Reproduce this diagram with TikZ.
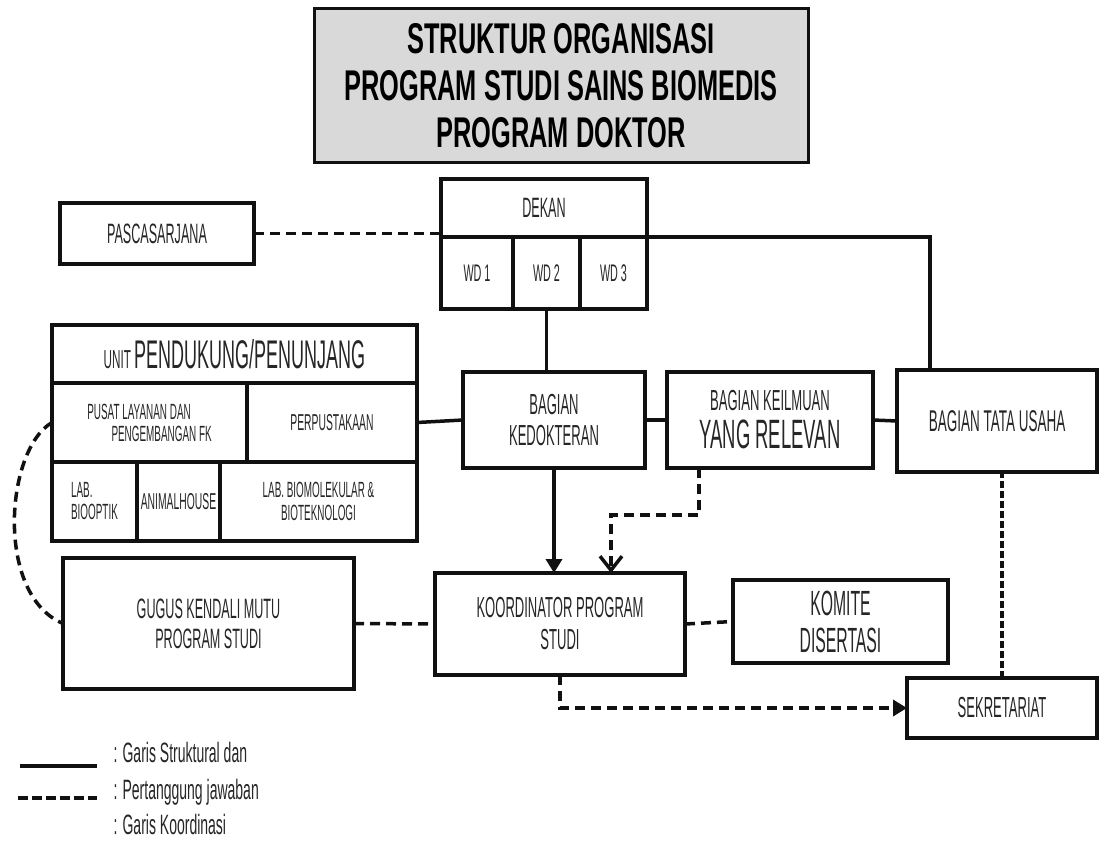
\documentclass[tikz,border=0pt]{standalone}
\usepackage{fontspec}
\setmainfont{Liberation Sans}[FakeStretch=0.45]
\newfontfamily\headfont{Liberation Sans}[FakeStretch=0.59]
\newfontfamily\legendfont{Liberation Sans}[FakeStretch=0.5]
\usepackage{tikz}
\usetikzlibrary{arrows.meta}
\definecolor{TitleGray}{HTML}{D9D9D9}
\definecolor{LineBlack}{HTML}{111111}
\definecolor{TextDark}{HTML}{262626}

\newcommand{\fs}[2]{\fontsize{#1}{#2}\selectfont}

\tikzset{
    unitbox/.style={draw=LineBlack, line width=3.5pt, anchor=north west, outer sep=0pt,
        align=center, inner sep=2pt, text=TextDark},
    struct/.style={draw=LineBlack, line width=3.5pt},
    resp/.style={draw=LineBlack, line width=3.5pt, dash pattern=on 10pt off 6pt},
    respfine/.style={draw=LineBlack, line width=3.5pt, dash pattern=on 7pt off 3pt},
    solidtip/.style={-{Triangle[width=16pt,length=14pt]}},
    opentip/.style={-{Straight Barb[width=22pt,length=14pt]}},
}

\begin{document}
\begin{tikzpicture}[x=1pt, y=-1pt]
    \useasboundingbox (0,0) rectangle (1099,840);

    % Title
    \node[unitbox, fill=TitleGray, text=black, line width=3pt, minimum width=494pt, minimum height=153pt,
        font=\headfont\bfseries\fs{43}{47}] (title) at (314,9)
        {STRUKTUR ORGANISASI\\PROGRAM STUDI SAINS BIOMEDIS\\PROGRAM DOKTOR};

    % Dekan and wakil dekan
    \node[unitbox, minimum width=206pt, minimum height=58pt, font=\fs{28}{30}] (dekan) at (441,179) {DEKAN};
    \node[unitbox, minimum width=72pt, minimum height=72pt, font=\fs{24}{26}] (wd1) at (441,237) {WD 1};
    \node[unitbox, minimum width=67pt, minimum height=72pt, font=\fs{24}{26}] (wd2) at (513,237) {WD 2};
    \node[unitbox, minimum width=67pt, minimum height=72pt, font=\fs{24}{26}] (wd3) at (580,237) {WD 3};

    \node[unitbox, minimum width=194pt, minimum height=61pt, font=\fs{28}{30}] (pasca) at (60,203) {PASCASARJANA};

    % Unit pendukung / penunjang
    \node[unitbox, minimum width=365pt, minimum height=58pt] (unit) at (52,325)
        {\fs{26}{30}UNIT \fs{40}{42}PENDUKUNG/PENUNJANG};
    \node[unitbox, minimum width=195pt, minimum height=79pt, align=left, font=\fs{22}{22}] (pusat) at (52,383)
        {PUSAT LAYANAN DAN\\\hspace*{1.1em}PENGEMBANGAN FK};
    \node[unitbox, minimum width=170pt, minimum height=79pt, font=\fs{23}{23}] (perpus) at (247,383) {PERPUSTAKAAN};
    \node[unitbox, minimum width=85pt, minimum height=79pt, align=left, font=\fs{22}{22}] (biooptik) at (52,462)
        {LAB.\\BIOOPTIK};
    \node[unitbox, minimum width=83pt, minimum height=79pt, inner sep=0pt, font=\fs{23}{23}] (animal) at (137,462) {ANIMALHOUSE};
    \node[unitbox, minimum width=197pt, minimum height=79pt, font=\fs{22}{23}] (biomol) at (220,462)
        {LAB. BIOMOLEKULAR \&\\BIOTEKNOLOGI};

    % Bagian
    \node[unitbox, minimum width=182pt, minimum height=96pt, font=\fs{29}{31}] (kedok) at (463,372)
        {BAGIAN\\KEDOKTERAN};
    \node[unitbox, minimum width=206pt, minimum height=96pt, font=\fs{29}{38}] (keilmu) at (667,372)
        {BAGIAN KEILMUAN\\\fs{41}{38}YANG RELEVAN};
    \node[unitbox, minimum width=200pt, minimum height=102pt, font=\fs{30}{32}] (tatausaha) at (897,370)
        {BAGIAN TATA USAHA};

    % Program studi
    \node[unitbox, minimum width=250pt, minimum height=102pt, font=\fs{29}{32}] (koord) at (435,573)
        {KOORDINATOR PROGRAM\\STUDI};
    \node[unitbox, minimum width=215pt, minimum height=83pt, font=\fs{35}{37}] (komite) at (733,580)
        {KOMITE\\DISERTASI};
    \node[unitbox, minimum width=291pt, minimum height=131pt, font=\fs{28}{30}] (gugus) at (63,558)
        {GUGUS KENDALI MUTU\\PROGRAM STUDI};
    \node[unitbox, minimum width=190pt, minimum height=60pt, font=\fs{29}{30}] (sekre) at (907,678) {SEKRETARIAT};

    % Garis struktural
    \draw[struct] (dekan.south east) -| ([xshift=33pt]tatausaha.north west);
    \draw[struct] (wd2.south) -- (wd2.south |- kedok.north);
    \draw[struct] (perpus.east) -- (kedok.west);
    \draw[struct] (kedok.east) -- (keilmu.west);
    \draw[struct] (keilmu.east) -- (tatausaha.west);
    \draw[struct, solidtip] (kedok.south) -- (kedok.south |- koord.north);

    % Garis pertanggung jawaban / koordinasi
    \draw[resp] (pasca.east) -- (pasca.east -| dekan.west);
    \draw[resp, opentip] ([xshift=32pt]keilmu.south west) -- ++(0,47) -| ([xshift=176pt]koord.north west);
    \draw[resp] (gugus.east) -- (koord.west);
    \draw[resp] (koord.east) -- (komite.west);
    \draw[respfine] (sekre.north) -- (sekre.north |- tatausaha.south);
    \draw[resp, solidtip] (koord.south) |- (sekre.west);
    \draw[resp] (pusat.west) .. controls (5,450) and (-5,595) .. (gugus.west);

    % Legend
    \coordinate (solidA) at (20,766);
    \coordinate (solidB) at (97,766);
    \coordinate (dashA) at (18,798);
    \coordinate (dashB) at (97,798);
    \draw[struct, line width=4pt] (solidA) -- (solidB);
    \draw[resp, line width=4pt, dash pattern=on 10pt off 4pt] (dashA) -- (dashB);
    \node[anchor=base west, text=TextDark, font=\legendfont\fs{28}{30}] (legstruct) at (110,762) {: Garis Struktural dan};
    \node[anchor=base west, text=TextDark, font=\legendfont\fs{28}{30}] (legresp) at (110,799) {: Pertanggung jawaban};
    \node[anchor=base west, text=TextDark, font=\legendfont\fs{28}{30}] (legkoord) at (110,834) {: Garis Koordinasi};
\end{tikzpicture}
\end{document}
